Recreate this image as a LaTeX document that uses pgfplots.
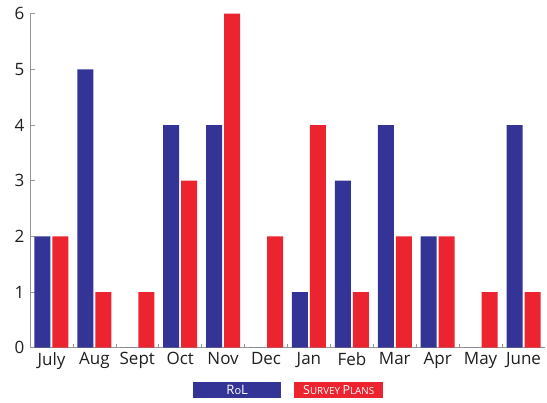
\documentclass[border=0pt]{standalone}
\usepackage{pgfplots}
\pgfplotsset{compat=1.18}
\usepackage{fontspec}
\setmainfont{Open Sans}
\definecolor{rolblue}{RGB}{52,52,150}
\definecolor{spred}{RGB}{236,36,48}
\definecolor{axgray}{RGB}{150,150,150}
\newcommand{\fsc}[2]{{\fontsize{12.5}{12}\selectfont #1}{\fontsize{9.8}{10}\selectfont #2}}
\begin{document}
\begin{tikzpicture}[x=1pt,y=1pt]
\useasboundingbox (0,0) rectangle (547,403);
\begin{axis}[
  at={(30pt,55.3pt)}, anchor=south west,
  scale only axis, width=515pt, height=334pt,
  ybar, bar width=16pt,
  xmin=-0.5, xmax=11.5, ymin=0, ymax=6,
  axis lines=left,
  axis line style={draw=axgray, line width=0.8pt, -},
  xtick={0,...,11},
  xticklabels={July,Aug,Sept,Oct,Nov,Dec,Jan,Feb,Mar,Apr,May,June},
  major x tick style={draw=none},
  minor xtick={0.5,1.5,...,10.5},
  minor tick length=4pt,
  minor x tick style={draw=axgray, line width=0.6pt},
  ytick={0,...,6},
  major tick length=5pt,
  tick align=inside,
  major y tick style={draw=axgray, line width=0.6pt},
  /pgf/number format/assume math mode=true,
  tick label style={font=\fontsize{17}{18}\selectfont, text=black!88},
  xticklabel style={yshift=-1pt},
  yticklabel style={xshift=-2pt},
  clip=false,
]
\addplot[fill=rolblue, draw=none, bar shift=-9pt] coordinates {
 (0,2) (1,5) (2,0) (3,4) (4,4) (5,0) (6,1) (7,3) (8,4) (9,2) (10,0) (11,4)};
\addplot[fill=spred, draw=none, bar shift=9pt] coordinates {
 (0,2) (1,1) (2,1) (3,3) (4,6) (5,2) (6,4) (7,1) (8,2) (9,2) (10,1) (11,1)};
\end{axis}
\node[fill=rolblue, text=white, minimum width=88pt, minimum height=16pt, inner sep=0pt, anchor=south west] at (193,5) {\fontsize{13}{12}\selectfont R\fontsize{11}{11}\selectfont o\fontsize{13}{12}\selectfont L};
\node[fill=spred, text=white, minimum width=89pt, minimum height=16pt, inner sep=0pt, anchor=south west] at (294,5) {\fsc{S}{URVEY} \fsc{P}{LANS}};
\end{tikzpicture}
\end{document}
